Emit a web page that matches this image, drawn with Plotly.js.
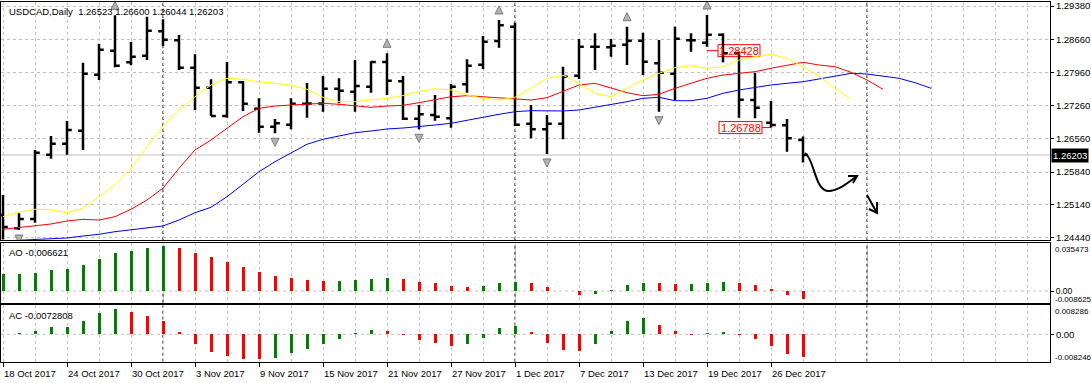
<!DOCTYPE html>
<html>
<head>
<meta charset="utf-8">
<script src="https://cdn.plot.ly/plotly-3.0.1.min.js"></script>
<style>html,body{margin:0;padding:0;background:#fff;}#chart{width:1091px;height:383px;}</style>
</head>
<body>
<div id="chart"></div>
<script>
// ---------------- DATA ----------------
const symbolName = 'USDCAD,Daily';
const barOpen = [1.24924,1.24640,1.24839,1.26210,1.26444,1.26722,1.27916,1.28427,1.28180,1.28321,1.28841,1.28649,1.28065,1.27638,1.27035,1.27753,1.27191,1.26807,1.26849,1.27297,1.27300,1.27617,1.27553,1.27660,1.28186,1.27775,1.26977,1.27056,1.26986,1.27711,1.28129,1.28634,1.28939,1.26871,1.26751,1.26871,1.27894,1.28513,1.28500,1.28555,1.28640,1.28159,1.27937,1.28649,1.28598,1.28768,1.28372,1.27376,1.26892,1.26837,1.26523];
const barHigh = [1.25350,1.24960,1.26310,1.26608,1.26928,1.28171,1.28577,1.29182,1.28613,1.29152,1.29097,1.28762,1.28350,1.27817,1.28186,1.27781,1.27412,1.26971,1.27412,1.27739,1.27888,1.27839,1.28229,1.28201,1.28372,1.27888,1.27269,1.27483,1.27717,1.28244,1.28741,1.29082,1.29024,1.27269,1.27056,1.28086,1.28677,1.28798,1.28677,1.28939,1.28811,1.28655,1.28939,1.28798,1.29188,1.28798,1.28406,1.27958,1.27355,1.26971,1.26600];
const barLow = [1.24400,1.24604,1.24760,1.26124,1.26210,1.26310,1.27803,1.28073,1.28116,1.28229,1.28527,1.28016,1.27163,1.27035,1.26999,1.27142,1.26679,1.26666,1.26751,1.26999,1.27127,1.27306,1.27127,1.27532,1.27483,1.26950,1.26751,1.26935,1.26785,1.27532,1.28037,1.28491,1.26822,1.26559,1.26225,1.26538,1.27824,1.28016,1.28299,1.28122,1.27909,1.27127,1.27376,1.28406,1.28513,1.28180,1.26999,1.26986,1.26788,1.26274,1.26044];
const barClose = [1.24668,1.24839,1.26252,1.26444,1.26736,1.27937,1.28449,1.28107,1.28299,1.28854,1.28662,1.28065,1.27638,1.27035,1.27753,1.27297,1.26807,1.26879,1.27297,1.27300,1.27617,1.27574,1.27675,1.28186,1.27788,1.26977,1.27071,1.27020,1.27660,1.28107,1.28619,1.28969,1.26849,1.26751,1.26871,1.27873,1.28513,1.28513,1.28534,1.28640,1.28193,1.27958,1.28683,1.28649,1.28768,1.28372,1.27382,1.27212,1.26843,1.26559,1.26203];

// Alligator lines (shifted into the future)
const lipsYellow = [1.24888,1.24982,1.25046,1.25031,1.24973,1.25067,1.25314,1.25564,1.25920,1.26380,1.26822,1.27163,1.27446,1.27696,1.27839,1.27817,1.27766,1.27732,1.27690,1.27604,1.27434,1.27340,1.27340,1.27376,1.27412,1.27472,1.27553,1.27617,1.27589,1.27483,1.27412,1.27376,1.27434,1.27626,1.27839,1.27903,1.27732,1.27519,1.27446,1.27626,1.27803,1.27945,1.28065,1.28107,1.28052,1.28086,1.28229,1.28299,1.28350,1.28265,1.28086,1.27888,1.27626,1.27397];
const teethRed = [1.24619,1.24653,1.24696,1.24732,1.24796,1.24832,1.24817,1.24888,1.25046,1.25244,1.25493,1.25920,1.26310,1.26523,1.26773,1.27020,1.27199,1.27248,1.27269,1.27291,1.27306,1.27284,1.27248,1.27220,1.27248,1.27263,1.27318,1.27376,1.27446,1.27468,1.27446,1.27412,1.27397,1.27376,1.27425,1.27553,1.27696,1.27732,1.27638,1.27532,1.27468,1.27498,1.27626,1.27732,1.27839,1.27909,1.27945,1.27980,1.28052,1.28122,1.28180,1.28122,1.28086,1.27967,1.27803,1.27604];
const jawBlue = [1.24370,1.24385,1.24412,1.24427,1.24434,1.24476,1.24513,1.24568,1.24604,1.24640,1.24690,1.24817,1.24973,1.25088,1.25314,1.25579,1.25847,1.26061,1.26252,1.26432,1.26538,1.26608,1.26679,1.26715,1.26758,1.26779,1.26807,1.26843,1.26879,1.26935,1.27007,1.27071,1.27127,1.27148,1.27142,1.27142,1.27163,1.27220,1.27269,1.27340,1.27412,1.27434,1.27361,1.27361,1.27412,1.27519,1.27589,1.27647,1.27696,1.27732,1.27766,1.27824,1.27888,1.27945,1.27930,1.27888,1.27839,1.27745,1.27626];

// Awesome Oscillator and Accelerator Oscillator
const aoValues = [0.01357,0.01360,0.01436,0.01644,0.01723,0.02062,0.02506,0.02975,0.03132,0.03367,0.035473,0.03393,0.02975,0.02688,0.02271,0.01905,0.01488,0.01175,0.01018,0.00861,0.00780,0.00800,0.00861,0.00940,0.01018,0.00940,0.00705,0.00626,0.00392,0.00313,0.00392,0.00626,0.00705,0.00626,0.00313,0.00030,-0.00287,-0.00209,0.00078,0.00470,0.00626,0.00620,0.00548,0.00560,0.00626,0.00705,0.00626,0.00470,0.00157,-0.00313,-0.006621];
const acValues = [0.00010,0.00044,0.00120,0.00240,0.00251,0.00448,0.00710,0.008286,0.00742,0.00600,0.00448,0.00087,-0.00317,-0.00579,-0.00710,-0.00797,-0.008246,-0.00764,-0.00611,-0.00480,-0.00317,-0.00153,0.00044,0.00153,0.00109,-0.00022,-0.00186,-0.00284,-0.00382,-0.00317,-0.00120,0.00218,0.00262,0.00076,-0.00284,-0.00513,-0.00546,-0.00317,0.00109,0.00437,0.00535,0.00306,0.00109,-0.00022,0.00044,0.00076,-0.00011,-0.00153,-0.00382,-0.00644,-0.0072808];

// Fractals (bar indices)
const fractalUpBars = [7, 24, 31, 39, 44];
const fractalDownBars = [1, 17, 26, 34, 41];

// Axis labels
const priceTicks = [1.29380, 1.28660, 1.27960, 1.27260, 1.26560, 1.25840, 1.25140, 1.24440];
const dateTickBars = [0, 4, 8, 12, 16, 20, 24, 28, 32, 36, 40, 44, 48];
const dateTickText = ['18 Oct 2017','24 Oct 2017','30 Oct 2017','3 Nov 2017','9 Nov 2017','15 Nov 2017','21 Nov 2017','27 Nov 2017','1 Dec 2017','7 Dec 2017','13 Dec 2017','19 Dec 2017','26 Dec 2017'];
const periodSeparatorBars = [10, 32, 54];
const aoScaleLabels = ['0.035473', '-0.008625'];
const acScaleLabels = ['0.008286', '-0.008246'];

// Price labels placed on the chart
const labelPrices = [1.28428, 1.26788];
const labelBars = [44, 48];

// ---------------- GEOMETRY ----------------
const W = 1091, H = 383;
const BAR0_PX = 3, BAR_PX = 16;
const PLOT_L = 1, PLOT_R = 1050;
const MAIN_TOP = 2, MAIN_BOT = 240;
const AO_TOP = 242.7, AO_BOT = 302.7;
const AC_TOP = 305.3, AC_BOT = 361.7;
const REF_PRICE = 1.2444, REF_PX = 237.7, PRICE_PER_PX = 0.00021322;
const AO_ZERO_PX = 291, AO_PER_PX = 0.000783;
const AC_ZERO_PX = 334.3, AC_PER_PX = 0.0003275;

const xOf = px => (px - BAR0_PX) / BAR_PX;
const priceAt = py => REF_PRICE + (REF_PX - py) * PRICE_PER_PX;
const py2 = py => (H - py) / H;
const px2 = px => px / W;

const GRID = '#c0c0c0';
const DASH = '3px,3px';
const FONT = 'Liberation Sans, Arial, sans-serif';
const GREEN = '#008000', RED = '#ff0000';

const idx = arr => arr.map((_, i) => i);
const risingColors = arr => arr.map((v, i) => (i === 0 || v > arr[i - 1]) ? GREEN : RED);

const last = barClose.length - 1;

// ---------------- TRACES ----------------
const traces = [
  {type:'scatter', mode:'lines', x: idx(jawBlue), y: jawBlue, line:{color:'#0000ff', width:1}, xaxis:'x', yaxis:'y'},
  {type:'scatter', mode:'lines', x: idx(teethRed), y: teethRed, line:{color:'#ff0000', width:1}, xaxis:'x', yaxis:'y'},
  {type:'scatter', mode:'lines', x: idx(lipsYellow), y: lipsYellow, line:{color:'#ffff00', width:1}, xaxis:'x', yaxis:'y'},
  {type:'ohlc', x: idx(barClose), open: barOpen, high: barHigh, low: barLow, close: barClose,
   increasing:{line:{color:'#000', width:2.5}}, decreasing:{line:{color:'#000', width:2.5}},
   tickwidth: 0.3, xaxis:'x', yaxis:'y', hoverinfo:'skip'},
  {type:'scatter', mode:'markers', x: fractalUpBars, y: fractalUpBars.map(i => barHigh[i] + 14 * PRICE_PER_PX),
   marker:{symbol:'arrow-up', size:8, color:'#b4b4b4', line:{color:'#7a7a7a', width:1}}, xaxis:'x', yaxis:'y'},
  {type:'scatter', mode:'markers', x: fractalDownBars, y: fractalDownBars.map(i => barLow[i] - 13 * PRICE_PER_PX),
   marker:{symbol:'arrow-down', size:8, color:'#b4b4b4', line:{color:'#7a7a7a', width:1}}, xaxis:'x', yaxis:'y'},
  {type:'bar', x: idx(aoValues), y: aoValues, width: 3 / BAR_PX, marker:{color: risingColors(aoValues), line:{width:0}}, xaxis:'x2', yaxis:'y2'},
  {type:'bar', x: idx(acValues), y: acValues, width: 3 / BAR_PX, marker:{color: risingColors(acValues), line:{width:0}}, xaxis:'x3', yaxis:'y3'}
];

// ---------------- LAYOUT ----------------
const commonX = {
  domain:[px2(PLOT_L), px2(PLOT_R)], range:[xOf(PLOT_L), xOf(PLOT_R)],
  showgrid:true, gridcolor:GRID, griddash:DASH, gridwidth:1,
  tickmode:'linear', tick0:0, dtick:2, zeroline:false,
  showline:true, mirror:true, linecolor:'#000', linewidth:1, ticks:'', showticklabels:false, fixedrange:true
};

const shapes = [];
// bid line
shapes.push({type:'line', xref:'paper', yref:'y', x0:px2(PLOT_L), x1:px2(PLOT_R), y0:barClose[last], y1:barClose[last], line:{color:'#c0c0c0', width:1}, layer:'between'});
// zero lines
shapes.push({type:'line', xref:'paper', yref:'y2', x0:px2(PLOT_L), x1:px2(PLOT_R), y0:0, y1:0, line:{color:GRID, width:1, dash:DASH}, layer:'between'});
shapes.push({type:'line', xref:'paper', yref:'y3', x0:px2(PLOT_L), x1:px2(PLOT_R), y0:0, y1:0, line:{color:GRID, width:1, dash:DASH}, layer:'between'});
// period separators
[[MAIN_TOP, MAIN_BOT], [AO_TOP, AO_BOT], [AC_TOP, AC_BOT]].forEach(([t, b]) => {
  periodSeparatorBars.forEach(i => {
    shapes.push({type:'line', xref:'x', yref:'paper', x0:i, x1:i, y0:py2(b), y1:py2(t), line:{color:'#000', width:1, dash:DASH}, layer:'between'});
  });
});

const annotations = [];
// header
annotations.push({xref:'paper', yref:'paper', x:px2(7), y:py2(11), xanchor:'left', yanchor:'middle', showarrow:false,
  text: symbolName + '  ' + [barOpen[last], barHigh[last], barLow[last], barClose[last]].map(v => v.toFixed(5)).join(' '),
  font:{family:FONT, size:9.5, color:'#000'}});
annotations.push({xref:'paper', yref:'paper', x:px2(7), y:py2(252.5), xanchor:'left', yanchor:'middle', showarrow:false,
  text:'AO ' + aoValues[last].toFixed(6), font:{family:FONT, size:9.5, color:'#000'}});
annotations.push({xref:'paper', yref:'paper', x:px2(7), y:py2(315), xanchor:'left', yanchor:'middle', showarrow:false,
  text:'AC ' + acValues[last].toFixed(7), font:{family:FONT, size:9.5, color:'#000'}});
// current price tag
annotations.push({xref:'paper', yref:'y', x:px2(PLOT_R + 1), y:barClose[last], xanchor:'left', yanchor:'middle', showarrow:false,
  text: barClose[last].toFixed(5), bgcolor:'#000', borderpad:1, font:{family:FONT, size:9.5, color:'#fff'}});
// sub-window scale labels
const subLabel = (txt, py) => ({xref:'paper', yref:'paper', x:px2(PLOT_R + 3), y:py2(py), xanchor:'left', yanchor:'middle', showarrow:false, text:txt, font:{family:FONT, size:8, color:'#000'}});
annotations.push(subLabel(aoScaleLabels[0], 249));
annotations.push(subLabel(aoScaleLabels[1], 299.5));
annotations.push(subLabel(acScaleLabels[0], 311));
annotations.push(subLabel(acScaleLabels[1], 357));

// price labels (boxes)
labelPrices.forEach((p, j) => {
  const barPx = BAR0_PX + BAR_PX * labelBars[j];
  const toRight = j === 0;
  const boxL = toRight ? barPx + 11 : barPx - 52;
  const boxR = toRight ? barPx + 53 : barPx - 9;
  const lineA = toRight ? barPx : boxR;
  const lineB = toRight ? boxL : barPx;
  shapes.push({type:'line', xref:'x', yref:'y', x0:xOf(lineA), x1:xOf(lineB), y0:p, y1:p, line:{color:'#ff0000', width:1}, layer:'between'});
  shapes.push({type:'rect', xref:'x', yref:'y', x0:xOf(boxL), x1:xOf(boxR), y0:p - 6 * PRICE_PER_PX, y1:p + 6 * PRICE_PER_PX,
    fillcolor:'#fff', line:{color:'#ff0000', width:1}, layer:'between'});
  annotations.push({xref:'x', yref:'y', x:xOf((boxL + boxR) / 2), y:p, xanchor:'center', yanchor:'middle', showarrow:false,
    text:p.toFixed(5), font:{family:FONT, size:11, color:'#ff0000'}});
});

// hand-drawn forecast arrows
const P = (px, py) => xOf(px) + ',' + priceAt(py);
shapes.push({type:'path', xref:'x', yref:'y', layer:'above', line:{color:'#000', width:2},
  path:'M' + P(805,153) + ' C' + P(814,158) + ' ' + P(815,191) + ' ' + P(828,191) + ' C' + P(838,191) + ' ' + P(848,183) + ' ' + P(857,176)});
shapes.push({type:'path', xref:'x', yref:'y', layer:'above', line:{color:'#000', width:2},
  path:'M' + P(848,176) + ' L' + P(857,176) + ' L' + P(853,183)});
shapes.push({type:'path', xref:'x', yref:'y', layer:'above', line:{color:'#000', width:2},
  path:'M' + P(867,195) + ' L' + P(877,213)});
shapes.push({type:'path', xref:'x', yref:'y', layer:'above', line:{color:'#000', width:2},
  path:'M' + P(877,202) + ' L' + P(877,213) + ' L' + P(869,209)});

const layout = {
  width:W, height:H, autosize:false,
  margin:{l:0, r:0, t:0, b:0, pad:0},
  paper_bgcolor:'#fff', plot_bgcolor:'#fff',
  showlegend:false, hovermode:false, dragmode:false,
  font:{family:FONT, size:9.5, color:'#000'},
  bargap:0,
  xaxis: Object.assign({}, commonX, {anchor:'y', rangeslider:{visible:false}}),
  xaxis2: Object.assign({}, commonX, {anchor:'y2'}),
  xaxis3: Object.assign({}, commonX, {anchor:'y3', tickmode:'array', tickvals:dateTickBars, ticktext:dateTickText,
    showticklabels:true, ticks:'outside', ticklen:4, tickcolor:'#000', ticklabelposition:'outside right', ticklabelstandoff:3,
    tickfont:{family:FONT, size:9.5, color:'#000'},
    minor:{tickmode:'linear', tick0:0, dtick:2, showgrid:true, gridcolor:GRID, griddash:DASH, gridwidth:1, ticks:''}}),
  yaxis: {domain:[py2(MAIN_BOT), py2(MAIN_TOP)], range:[priceAt(MAIN_BOT), priceAt(MAIN_TOP)], side:'right', anchor:'x',
    tickmode:'array', tickvals:priceTicks, ticktext:priceTicks.map(v => v.toFixed(5)),
    ticks:'outside', ticklen:3, tickcolor:'#000', tickfont:{family:FONT, size:9.5, color:'#000'},
    showgrid:true, gridcolor:GRID, griddash:DASH, gridwidth:1, zeroline:false,
    showline:true, mirror:true, linecolor:'#000', linewidth:1, fixedrange:true},
  yaxis2: {domain:[py2(AO_BOT), py2(AO_TOP)], range:[(AO_ZERO_PX - AO_BOT) * AO_PER_PX, (AO_ZERO_PX - AO_TOP) * AO_PER_PX], side:'right', anchor:'x2',
    tickmode:'array', tickvals:[0], ticktext:['0.00'], ticks:'outside', ticklen:3, tickcolor:'#000',
    tickfont:{family:FONT, size:8.5, color:'#000'}, showgrid:false, zeroline:false,
    showline:true, mirror:true, linecolor:'#000', linewidth:1, fixedrange:true},
  yaxis3: {domain:[py2(AC_BOT), py2(AC_TOP)], range:[(AC_ZERO_PX - AC_BOT) * AC_PER_PX, (AC_ZERO_PX - AC_TOP) * AC_PER_PX], side:'right', anchor:'x3',
    tickmode:'array', tickvals:[0], ticktext:['0.00'], ticks:'outside', ticklen:3, tickcolor:'#000',
    tickfont:{family:FONT, size:9.5, color:'#000'}, showgrid:false, zeroline:false,
    showline:true, mirror:true, linecolor:'#000', linewidth:1, fixedrange:true},
  shapes: shapes,
  annotations: annotations
};

Plotly.newPlot('chart', traces, layout, {staticPlot:true, displayModeBar:false});
</script>
</body>
</html>
